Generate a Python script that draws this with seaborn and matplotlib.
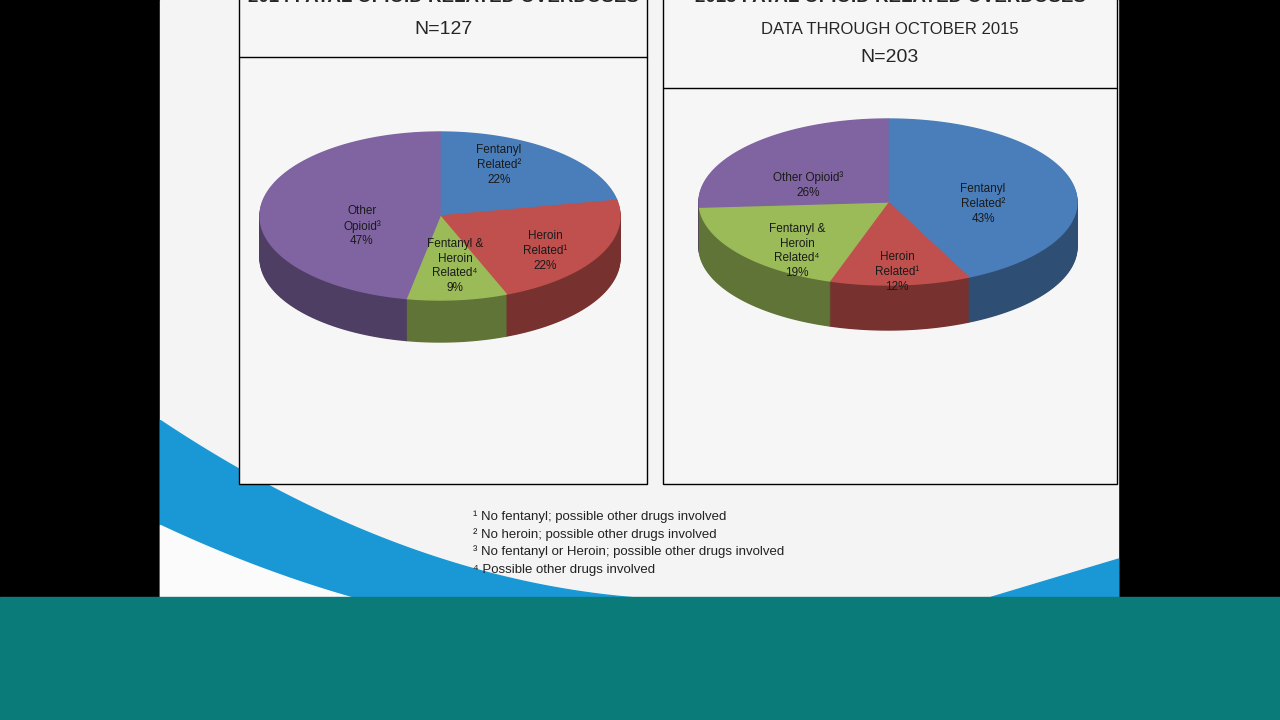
import numpy as np
import matplotlib
matplotlib.use("Agg")
import matplotlib.pyplot as plt
import seaborn as sns

# data
labels_2014 = ["Fentanyl\nRelated²", "Heroin\nRelated¹", "Fentanyl &\nHeroin\nRelated⁴", "Other\nOpioid³"]
pct_2014 = [22, 22, 9, 47]
labels_2015 = ["Fentanyl\nRelated²", "Heroin\nRelated¹", "Fentanyl &\nHeroin\nRelated⁴", "Other Opioid³"]
pct_2015 = [43, 12, 19, 26]
footnotes = ["¹ No fentanyl; possible other drugs involved",
             "² No heroin; possible other drugs involved",
             "³ No fentanyl or Heroin; possible other drugs involved",
             "⁴ Possible other drugs involved"]

sns.set_style("white")
plt.rcParams['font.family'] = ['Liberation Sans', 'DejaVu Sans']
colores = sns.color_palette(["#4a7ebb", "#c0504d", "#9bbb59", "#8064a2"])

fig = plt.figure(figsize=(12.8, 7.2), dpi=100)
ax = fig.add_axes([0, 0, 1, 1])
ax.set_xlim(0, 1280)
ax.set_ylim(720, 0)
ax.axis('off')
fig.patch.set_facecolor('black')

# slide
ax.add_patch(plt.Rectangle((160, 0), 958, 597, color="#f4f4f4", zorder=0))
ax.add_patch(plt.Rectangle((0, 597), 1280, 123, color="#0b7b79", zorder=5))

# swoosh
xs = np.linspace(160, 1118, 400)
outer = np.where(xs < 700, 600 - 6.17e-4 * (xs - 700) ** 2, 600)
inner = np.where(xs < 650, 640 - 4.79e-4 * (xs - 650) ** 2, 640)
ax.fill_between(xs, outer, 600, color="#1a98d5", zorder=1)
ax.fill_between(xs, inner, 600, color="#fbfbfb", zorder=1)
ax.fill_between(xs, np.where(xs > 990, 597 - (xs - 990) * 0.3, 700), 600, color="#1a98d5", zorder=1)

# boxes
for x0, x1, yt in [(239, 647, 57), (663, 1117, 88)]:
    ax.add_patch(plt.Rectangle((x0, -2), x1 - x0, 486, facecolor="#f6f6f6", edgecolor="black", lw=1, zorder=2))
    ax.plot([x0, x1], [yt, yt], color="black", lw=1, zorder=3)

ax.text(443, -2, "2014 FATAL OPIOID RELATED OVERDOSES", ha='center', va='center', fontsize=13.5, fontweight='bold', zorder=3)
ax.text(443, 29, "N=127", ha='center', va='center', fontsize=14, zorder=3)
ax.text(890, -2, "2015 FATAL OPIOID RELATED OVERDOSES", ha='center', va='center', fontsize=13.5, fontweight='bold', zorder=3)
ax.text(890, 30, "DATA THROUGH OCTOBER 2015", ha='center', va='center', fontsize=12, zorder=3)
ax.text(890, 58, "N=203", ha='center', va='center', fontsize=14, zorder=3)


def pie3d(cx, cy, rx, ry, depth, pcts, labels, label_pos):
    angs = [90]
    for p in pcts:
        angs.append(angs[-1] - p * 3.6)
    for d in range(depth, 0, -1):
        for i in range(len(pcts)):
            t = np.radians(np.linspace(angs[i + 1], angs[i], 80))
            px = np.concatenate([[cx], cx + rx * np.cos(t)])
            py = np.concatenate([[cy], cy - ry * np.sin(t)]) + d
            c = np.array(colores[i]) * 0.62
            ax.fill(px, py, color=c, zorder=3)
    for i in range(len(pcts)):
        t = np.radians(np.linspace(angs[i + 1], angs[i], 80))
        px = np.concatenate([[cx], cx + rx * np.cos(t)])
        py = np.concatenate([[cy], cy - ry * np.sin(t)])
        ax.fill(px, py, color=colores[i], zorder=4)
        lx, ly = label_pos[i]
        ax.text(lx, ly, labels[i] + "\n" + str(pcts[i]) + "%", ha='center', va='center',
                fontsize=8.5, color="#1a1a1a", linespacing=1.3, zorder=5)


pie3d(440, 216, 180, 84, 42, pct_2014, labels_2014,
      [(499, 165), (545, 251), (455, 266), (362, 226)])
pie3d(888, 202, 189, 83, 45, pct_2015, labels_2015,
      [(983, 204), (897, 272), (797, 251), (808, 185)])

for i, f in enumerate(footnotes):
    ax.text(473, 517 + i * 17.5, f, ha='left', va='center', fontsize=9.5, color="#222222", zorder=3)

fig.savefig("out.png", dpi=100, facecolor=fig.get_facecolor())
